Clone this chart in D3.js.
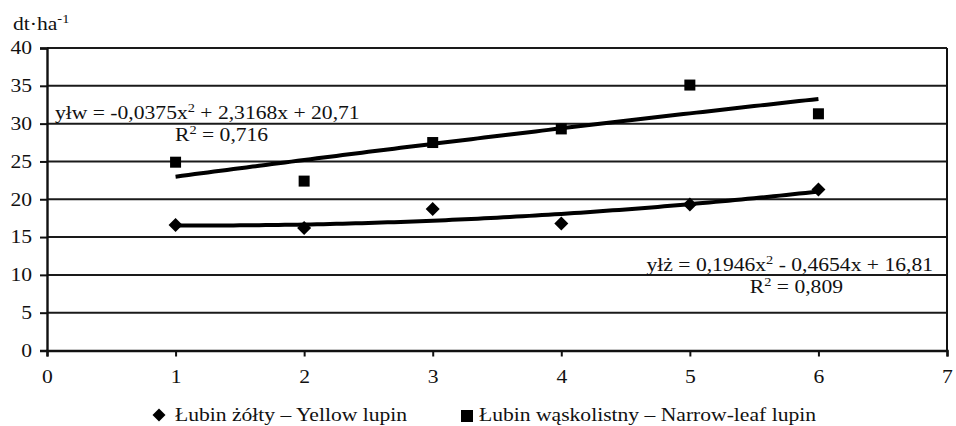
<!DOCTYPE html>
<html>
<head>
<meta charset="utf-8">
<script src="https://cdn.jsdelivr.net/npm/d3@7"></script>
<style>
  html, body { margin: 0; padding: 0; background: #fff; }
  svg { display: block; }
</style>
</head>
<body>
<svg id="chart" width="956" height="426"></svg>
<script>
// Years of the experiment and seed yields (dt/ha)
const years = [1, 2, 3, 4, 5, 6];
const yellowLupin = [16.6, 16.2, 18.7, 16.8, 19.3, 21.3];
const narrowLeafLupin = [24.9, 22.4, 27.5, 29.3, 35.1, 31.3];

// Polynomial trend coefficients [a, b, c] for y = a*x^2 + b*x + c
const yellowTrend = [0.1946, -0.4654, 16.81];
const narrowTrend = [-0.0375, 2.3168, 20.71];

const xTicks = [0, 1, 2, 3, 4, 5, 6, 7];
const yTicks = [0, 5, 10, 15, 20, 25, 30, 35, 40];

const legendLabels = ["Łubin żółty – Yellow lupin", "Łubin wąskolistny – Narrow-leaf lupin"];

const FONT = "Liberation Serif";
const FS = 18;      // base font size
const SX = 1.2;     // horizontal stretch of all lettering
const svg = d3.select("#chart");
const plotLeft = 47, plotRight = 947, plotTop = 48, plotBottom = 350.5;

const x = d3.scaleLinear().domain([0, 7]).range([plotLeft, plotRight]);
const y = d3.scaleLinear().domain([0, 40]).range([plotBottom, plotTop]);

// Text helper: a group placed at (px, py), lettering widened by SX
function label(parent, px, py, anchor) {
  return parent.append("g")
    .attr("transform", `translate(${px},${py}) scale(${SX},1)`)
    .append("text")
    .attr("text-anchor", anchor)
    .attr("fill", "#111")
    .attr("font-family", FONT)
    .attr("font-size", FS);
}

// Horizontal gridlines
svg.append("g")
  .selectAll("line")
  .data(yTicks.filter(d => d > 0))
  .join("line")
  .attr("x1", plotLeft).attr("x2", plotRight)
  .attr("y1", d => y(d)).attr("y2", d => y(d))
  .attr("stroke", "#1a1a1a").attr("stroke-width", 2);

// Right border
svg.append("line")
  .attr("x1", plotRight).attr("x2", plotRight)
  .attr("y1", plotTop).attr("y2", plotBottom)
  .attr("stroke", "#111").attr("stroke-width", 2);

// Axes
const yAxis = svg.append("g")
  .attr("transform", `translate(${plotLeft},0)`)
  .call(d3.axisLeft(y).tickValues(yTicks).tickSize(7).tickPadding(8).tickFormat(d3.format("d")));
const xAxis = svg.append("g")
  .attr("transform", `translate(0,${plotBottom})`)
  .call(d3.axisBottom(x).tickValues(xTicks).tickSize(6).tickPadding(14).tickFormat(d3.format("d")));

[yAxis, xAxis].forEach(g => {
  g.attr("font-family", FONT).attr("font-size", FS);
  g.select(".domain").attr("stroke", "#111").attr("stroke-width", 2.4);
  g.selectAll(".tick line").attr("stroke", "#111").attr("stroke-width", 2);
  g.selectAll(".tick text").attr("fill", "#111");
});
xAxis.selectAll(".tick text").attr("transform", `scale(${SX},1)`);
yAxis.selectAll(".tick text")
  .attr("x", -15 / SX)
  .attr("transform", `scale(${SX},1)`);

// Trend curves
const poly = (c, t) => c[0] * t * t + c[1] * t + c[2];
const curvePts = c => d3.range(0, 101).map(i => {
  const t = 1 + i * 5 / 100;
  return [x(t), y(poly(c, t))];
});
const line = d3.line();
[yellowTrend, narrowTrend].forEach(c => {
  svg.append("path")
    .attr("d", line(curvePts(c)))
    .attr("fill", "none")
    .attr("stroke", "#000")
    .attr("stroke-width", 4);
});

// Markers
const diamondPath = s => `M0,${-s}L${s},0L0,${s}L${-s},0Z`;
svg.append("g")
  .selectAll("path")
  .data(years.map((t, i) => [t, yellowLupin[i]]))
  .join("path")
  .attr("transform", d => `translate(${x(d[0])},${y(d[1])})`)
  .attr("d", diamondPath(7))
  .attr("fill", "#000");

svg.append("g")
  .selectAll("rect")
  .data(years.map((t, i) => [t, narrowLeafLupin[i]]))
  .join("rect")
  .attr("x", d => x(d[0]) - 5.5)
  .attr("y", d => y(d[1]) - 5.5)
  .attr("width", 11).attr("height", 11)
  .attr("fill", "#000");

// Equation labels with superscripts
function equation(px, py, anchor, parts) {
  const t = label(svg, px, py, anchor);
  parts.forEach(p => {
    if (p.sup) {
      t.append("tspan").attr("dy", -7).attr("font-size", 12).text(p.t);
    } else {
      t.append("tspan").attr("dy", p.after ? 7 : 0).text(p.t);
    }
  });
}
equation(55, 119, "start", [
  { t: "yłw = -0,0375x" }, { t: "2", sup: true }, { t: " + 2,3168x + 20,71", after: true }
]);
equation(175, 141, "start", [
  { t: "R" }, { t: "2", sup: true }, { t: " = 0,716", after: true }
]);
equation(933, 271, "end", [
  { t: "yłż = 0,1946x" }, { t: "2", sup: true }, { t: " - 0,4654x + 16,81", after: true }
]);
equation(843, 293, "end", [
  { t: "R" }, { t: "2", sup: true }, { t: " = 0,809", after: true }
]);

// Unit label
const unit = label(svg, 13, 30, "start");
unit.append("tspan").text("dt·ha");
unit.append("tspan").attr("dy", -7).attr("font-size", 12).text("-1");

// Legend
const legend = svg.append("g");
legend.append("path")
  .attr("transform", "translate(159,415)")
  .attr("d", diamondPath(6.5))
  .attr("fill", "#000");
label(legend, 175, 421, "start").text(legendLabels[0]);
legend.append("rect").attr("x", 461).attr("y", 410).attr("width", 12).attr("height", 12).attr("fill", "#000");
label(legend, 479, 421, "start").text(legendLabels[1]);
</script>
</body>
</html>
